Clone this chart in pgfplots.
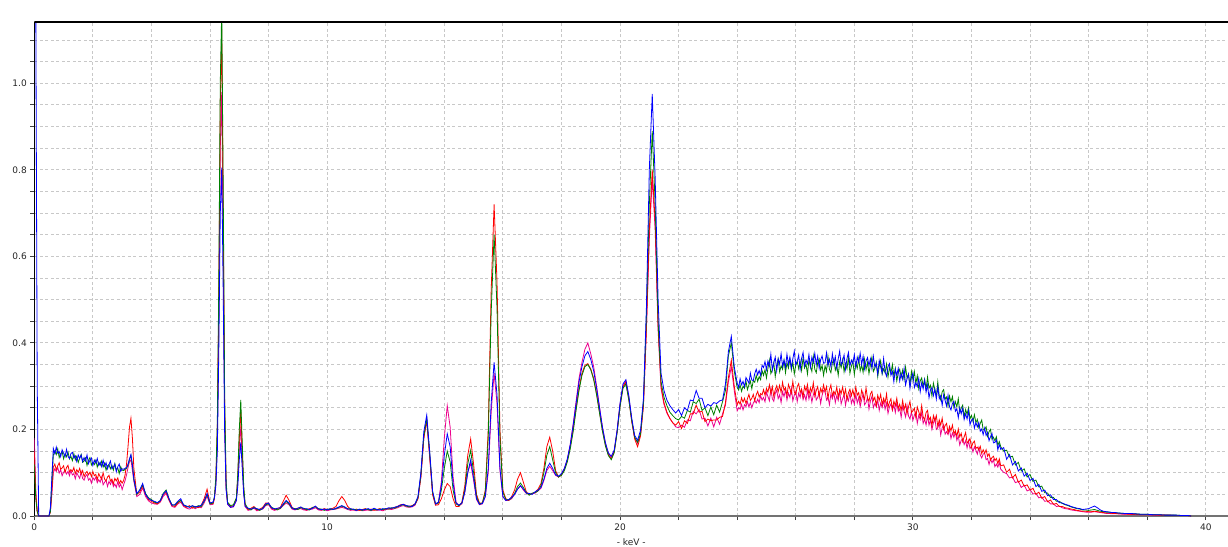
\documentclass[border=0pt]{standalone}
\usepackage{pgfplots}
\usepackage{pgfplotstable}
\pgfplotsset{compat=1.18}
\usepackage{fontspec}
\setmainfont{DejaVu Sans}

\pgfplotstableread{
x r g b m
0.00 0.150 0.120 1.200 0.180
0.05 0.050 0.040 1.200 0.060
0.10 0.010 0.010 0.300 0.010
0.15 0.000 0.000 0.000 0.000
0.50 0.000 0.000 0.000 0.000
0.55 0.010 0.010 0.020 0.010
0.60 0.060 0.080 0.090 0.050
0.65 0.113 0.141 0.156 0.100
0.70 0.120 0.150 0.144 0.109
0.75 0.107 0.142 0.159 0.103
0.80 0.116 0.155 0.145 0.112
0.85 0.123 0.135 0.149 0.099
0.90 0.108 0.144 0.137 0.107
0.95 0.111 0.149 0.153 0.093
1.00 0.116 0.132 0.145 0.101
1.05 0.101 0.144 0.137 0.105
1.10 0.112 0.137 0.154 0.097
1.15 0.117 0.148 0.138 0.103
1.20 0.102 0.132 0.133 0.093
1.25 0.107 0.138 0.144 0.105
1.30 0.103 0.128 0.147 0.095
1.35 0.112 0.144 0.134 0.098
1.40 0.098 0.130 0.139 0.086
1.45 0.107 0.138 0.126 0.100
1.50 0.101 0.124 0.141 0.093
1.55 0.110 0.134 0.133 0.087
1.60 0.097 0.142 0.141 0.102
1.65 0.105 0.124 0.126 0.087
1.70 0.091 0.127 0.135 0.083
1.75 0.099 0.134 0.127 0.092
1.80 0.103 0.117 0.141 0.096
1.85 0.095 0.129 0.121 0.083
1.90 0.101 0.135 0.129 0.087
1.95 0.091 0.118 0.134 0.076
2.00 0.103 0.124 0.117 0.089
2.05 0.093 0.119 0.129 0.083
2.10 0.096 0.129 0.122 0.090
2.15 0.084 0.113 0.133 0.077
2.20 0.098 0.124 0.117 0.084
2.25 0.091 0.117 0.124 0.078
2.30 0.085 0.127 0.114 0.090
2.35 0.100 0.113 0.129 0.072
2.40 0.085 0.122 0.115 0.078
2.45 0.081 0.106 0.123 0.083
2.50 0.090 0.116 0.109 0.068
2.55 0.094 0.119 0.119 0.080
2.60 0.081 0.109 0.127 0.073
2.65 0.085 0.117 0.109 0.083
2.70 0.074 0.106 0.113 0.068
2.75 0.087 0.121 0.120 0.074
2.80 0.081 0.107 0.102 0.066
2.85 0.088 0.111 0.114 0.079
2.90 0.075 0.098 0.120 0.067
2.95 0.082 0.114 0.103 0.074
3.00 0.076 0.106 0.109 0.061
3.05 0.082 0.105 0.108 0.072
3.10 0.095 0.108 0.110 0.082
3.15 0.120 0.110 0.112 0.095
3.20 0.160 0.118 0.120 0.112
3.25 0.205 0.130 0.132 0.125
3.30 0.226 0.140 0.142 0.130
3.35 0.180 0.118 0.118 0.105
3.40 0.110 0.085 0.085 0.080
3.50 0.050 0.050 0.052 0.045
3.60 0.055 0.060 0.060 0.050
3.70 0.070 0.072 0.075 0.065
3.80 0.050 0.052 0.050 0.045
3.90 0.038 0.042 0.040 0.035
4.00 0.034 0.038 0.036 0.030
4.10 0.030 0.032 0.034 0.028
4.20 0.028 0.030 0.031 0.027
4.30 0.034 0.036 0.035 0.032
4.40 0.048 0.052 0.050 0.045
4.50 0.055 0.060 0.058 0.052
4.60 0.038 0.040 0.040 0.036
4.70 0.024 0.026 0.025 0.022
4.80 0.022 0.025 0.026 0.020
4.90 0.030 0.032 0.034 0.028
5.00 0.036 0.036 0.040 0.032
5.10 0.024 0.026 0.025 0.022
5.20 0.020 0.022 0.023 0.018
5.30 0.024 0.021 0.020 0.016
5.40 0.018 0.023 0.024 0.020
5.50 0.022 0.020 0.021 0.017
5.60 0.019 0.024 0.022 0.021
5.70 0.025 0.022 0.025 0.019
5.80 0.040 0.034 0.035 0.030
5.90 0.062 0.050 0.052 0.046
6.00 0.030 0.028 0.030 0.026
6.10 0.028 0.030 0.032 0.027
6.15 0.040 0.045 0.042 0.040
6.20 0.080 0.090 0.070 0.080
6.25 0.200 0.220 0.150 0.180
6.30 0.500 0.540 0.380 0.450
6.35 0.950 1.000 0.700 0.850
6.40 1.125 1.170 0.805 0.980
6.45 0.700 0.760 0.520 0.620
6.50 0.250 0.280 0.190 0.220
6.55 0.070 0.080 0.060 0.065
6.60 0.030 0.032 0.028 0.027
6.70 0.022 0.024 0.020 0.020
6.80 0.024 0.026 0.022 0.021
6.90 0.040 0.042 0.036 0.036
6.95 0.090 0.100 0.070 0.085
7.00 0.180 0.200 0.130 0.160
7.05 0.245 0.268 0.170 0.205
7.10 0.150 0.170 0.110 0.130
7.15 0.060 0.070 0.050 0.055
7.20 0.025 0.028 0.022 0.022
7.30 0.015 0.017 0.018 0.013
7.40 0.018 0.014 0.016 0.015
7.50 0.022 0.020 0.019 0.018
7.60 0.014 0.016 0.017 0.012
7.70 0.016 0.013 0.015 0.014
7.80 0.020 0.018 0.017 0.016
7.90 0.030 0.026 0.028 0.024
8.00 0.030 0.028 0.030 0.026
8.10 0.018 0.020 0.019 0.016
8.20 0.015 0.017 0.016 0.013
8.30 0.017 0.014 0.018 0.015
8.40 0.020 0.018 0.019 0.017
8.50 0.034 0.026 0.028 0.024
8.60 0.048 0.034 0.036 0.030
8.70 0.036 0.028 0.030 0.026
8.80 0.020 0.018 0.019 0.016
8.90 0.016 0.017 0.015 0.014
9.00 0.018 0.015 0.018 0.016
9.10 0.020 0.019 0.021 0.017
9.20 0.016 0.018 0.016 0.014
9.30 0.014 0.015 0.017 0.013
9.40 0.017 0.014 0.015 0.015
9.50 0.019 0.020 0.018 0.016
9.60 0.022 0.021 0.023 0.019
9.70 0.016 0.017 0.016 0.014
9.80 0.014 0.016 0.015 0.013
9.90 0.017 0.013 0.016 0.015
10.00 0.015 0.016 0.014 0.012
10.10 0.016 0.015 0.017 0.014
10.20 0.018 0.016 0.015 0.015
10.30 0.022 0.017 0.018 0.016
10.40 0.035 0.020 0.021 0.018
10.50 0.045 0.023 0.024 0.020
10.60 0.036 0.020 0.021 0.018
10.70 0.022 0.017 0.016 0.015
10.80 0.016 0.015 0.017 0.013
10.90 0.014 0.016 0.015 0.014
11.00 0.016 0.014 0.013 0.012
11.10 0.013 0.015 0.016 0.014
11.20 0.015 0.013 0.014 0.012
11.30 0.017 0.016 0.015 0.013
11.40 0.014 0.015 0.017 0.014
11.50 0.016 0.013 0.014 0.012
11.60 0.013 0.016 0.018 0.015
11.70 0.015 0.014 0.015 0.013
11.80 0.017 0.016 0.014 0.014
11.90 0.014 0.015 0.017 0.012
12.00 0.016 0.017 0.016 0.015
12.10 0.018 0.016 0.019 0.016
12.20 0.017 0.019 0.018 0.015
12.30 0.020 0.018 0.020 0.017
12.40 0.022 0.021 0.022 0.019
12.50 0.026 0.024 0.025 0.022
12.60 0.027 0.026 0.027 0.024
12.70 0.024 0.023 0.024 0.021
12.80 0.022 0.021 0.023 0.020
12.90 0.024 0.023 0.022 0.021
13.00 0.028 0.027 0.028 0.025
13.10 0.040 0.042 0.045 0.040
13.20 0.090 0.095 0.100 0.090
13.30 0.180 0.185 0.195 0.180
13.40 0.222 0.225 0.233 0.220
13.50 0.140 0.145 0.150 0.135
13.60 0.050 0.055 0.058 0.050
13.70 0.025 0.028 0.028 0.026
13.80 0.026 0.030 0.032 0.032
13.90 0.040 0.060 0.070 0.080
14.00 0.060 0.110 0.140 0.180
14.10 0.075 0.150 0.190 0.255
14.20 0.068 0.125 0.160 0.205
14.30 0.040 0.060 0.075 0.090
14.40 0.022 0.028 0.030 0.032
14.50 0.022 0.024 0.025 0.024
14.60 0.032 0.030 0.030 0.028
14.70 0.070 0.060 0.055 0.055
14.80 0.140 0.120 0.100 0.100
14.90 0.178 0.152 0.130 0.122
15.00 0.120 0.100 0.088 0.082
15.10 0.050 0.045 0.040 0.038
15.20 0.030 0.028 0.027 0.026
15.30 0.030 0.030 0.029 0.028
15.40 0.060 0.055 0.045 0.045
15.50 0.200 0.180 0.110 0.100
15.60 0.520 0.470 0.260 0.240
15.70 0.720 0.650 0.355 0.330
15.80 0.540 0.480 0.280 0.260
15.90 0.200 0.180 0.110 0.105
16.00 0.060 0.055 0.045 0.045
16.10 0.040 0.038 0.036 0.036
16.20 0.036 0.037 0.038 0.036
16.30 0.045 0.042 0.043 0.040
16.40 0.060 0.052 0.050 0.050
16.50 0.085 0.068 0.062 0.062
16.60 0.100 0.076 0.070 0.070
16.70 0.078 0.066 0.062 0.060
16.80 0.056 0.054 0.053 0.052
16.90 0.050 0.048 0.052 0.050
17.00 0.052 0.053 0.050 0.051
17.10 0.055 0.054 0.056 0.053
17.20 0.062 0.058 0.060 0.058
17.30 0.075 0.070 0.066 0.064
17.40 0.110 0.100 0.085 0.082
17.50 0.160 0.140 0.110 0.105
17.60 0.182 0.160 0.122 0.115
17.70 0.150 0.130 0.110 0.105
17.80 0.105 0.100 0.095 0.094
17.90 0.090 0.090 0.092 0.090
18.00 0.095 0.094 0.098 0.096
18.10 0.108 0.105 0.110 0.110
18.20 0.128 0.125 0.132 0.130
18.30 0.160 0.155 0.165 0.165
18.40 0.200 0.195 0.210 0.212
18.50 0.250 0.245 0.260 0.265
18.60 0.295 0.290 0.310 0.318
18.70 0.330 0.325 0.345 0.355
18.80 0.348 0.345 0.370 0.385
18.90 0.352 0.350 0.380 0.400
19.00 0.340 0.338 0.362 0.375
19.10 0.318 0.315 0.335 0.345
19.20 0.282 0.280 0.295 0.300
19.30 0.240 0.238 0.250 0.252
19.40 0.198 0.196 0.205 0.205
19.50 0.165 0.162 0.170 0.168
19.60 0.142 0.140 0.146 0.145
19.70 0.132 0.130 0.138 0.136
19.80 0.148 0.146 0.152 0.150
19.90 0.195 0.192 0.198 0.196
20.00 0.255 0.252 0.260 0.258
20.10 0.298 0.295 0.305 0.300
20.20 0.310 0.305 0.315 0.312
20.30 0.270 0.268 0.278 0.275
20.40 0.218 0.220 0.226 0.222
20.50 0.178 0.182 0.186 0.180
20.60 0.160 0.170 0.175 0.168
20.70 0.185 0.190 0.198 0.188
20.80 0.255 0.262 0.272 0.258
20.90 0.430 0.460 0.480 0.430
21.00 0.660 0.720 0.800 0.640
21.10 0.800 0.890 0.975 0.780
21.20 0.680 0.720 0.780 0.660
21.30 0.440 0.450 0.500 0.430
21.40 0.300 0.310 0.330 0.295
21.50 0.262 0.275 0.290 0.258
21.60 0.240 0.255 0.268 0.238
21.70 0.226 0.240 0.255 0.225
21.80 0.215 0.232 0.246 0.216
21.90 0.210 0.225 0.238 0.206
22.00 0.218 0.222 0.246 0.204
22.10 0.202 0.230 0.232 0.210
22.20 0.220 0.226 0.250 0.205
22.30 0.214 0.244 0.244 0.222
22.40 0.236 0.240 0.268 0.220
22.50 0.236 0.264 0.266 0.242
22.60 0.256 0.260 0.290 0.236
22.70 0.240 0.270 0.272 0.246
22.80 0.242 0.244 0.272 0.224
22.90 0.218 0.250 0.250 0.226
23.00 0.224 0.232 0.258 0.208
23.10 0.220 0.252 0.254 0.226
23.20 0.222 0.234 0.262 0.206
23.30 0.222 0.256 0.260 0.228
23.40 0.228 0.240 0.266 0.212
23.50 0.230 0.264 0.268 0.236
23.60 0.262 0.290 0.305 0.256
23.70 0.320 0.370 0.380 0.310
23.80 0.360 0.400 0.415 0.345
23.90 0.300 0.335 0.345 0.290
24.00 0.257 0.297 0.307 0.243
24.05 0.265 0.291 0.297 0.250
24.10 0.258 0.303 0.317 0.247
24.15 0.273 0.288 0.303 0.258
24.20 0.263 0.300 0.311 0.245
24.25 0.272 0.295 0.299 0.257
24.30 0.260 0.312 0.320 0.253
24.35 0.271 0.292 0.314 0.264
24.40 0.281 0.303 0.307 0.252
24.45 0.267 0.312 0.330 0.262
24.50 0.272 0.294 0.314 0.250
24.55 0.281 0.313 0.313 0.261
24.60 0.266 0.309 0.329 0.267
24.65 0.280 0.325 0.339 0.261
24.70 0.288 0.311 0.326 0.270
24.75 0.275 0.322 0.336 0.262
24.80 0.283 0.315 0.325 0.278
24.85 0.280 0.336 0.348 0.268
24.90 0.292 0.325 0.343 0.274
24.95 0.279 0.338 0.357 0.264
25.00 0.295 0.319 0.338 0.286
25.05 0.286 0.341 0.358 0.276
25.10 0.303 0.360 0.346 0.266
25.15 0.283 0.329 0.374 0.294
25.20 0.299 0.338 0.337 0.271
25.25 0.276 0.354 0.354 0.265
25.30 0.292 0.322 0.367 0.283
25.35 0.301 0.348 0.336 0.291
25.40 0.287 0.363 0.363 0.271
25.45 0.302 0.333 0.351 0.280
25.50 0.285 0.347 0.375 0.262
25.55 0.309 0.339 0.346 0.287
25.60 0.290 0.360 0.360 0.276
25.65 0.297 0.331 0.344 0.291
25.70 0.278 0.354 0.374 0.268
25.75 0.304 0.342 0.350 0.284
25.80 0.294 0.363 0.367 0.274
25.85 0.283 0.337 0.342 0.296
25.90 0.311 0.356 0.363 0.266
25.95 0.287 0.328 0.381 0.279
26.00 0.281 0.348 0.349 0.288
26.05 0.299 0.357 0.357 0.264
26.10 0.306 0.340 0.372 0.284
26.15 0.285 0.357 0.339 0.274
26.20 0.293 0.336 0.364 0.292
26.25 0.275 0.366 0.378 0.269
26.30 0.300 0.342 0.347 0.280
26.35 0.289 0.351 0.360 0.267
26.40 0.304 0.328 0.352 0.291
26.45 0.280 0.360 0.373 0.270
26.50 0.296 0.347 0.344 0.284
26.55 0.286 0.334 0.367 0.263
26.60 0.308 0.369 0.355 0.280
26.65 0.277 0.339 0.376 0.293
26.70 0.290 0.331 0.350 0.268
26.75 0.299 0.354 0.369 0.274
26.80 0.275 0.363 0.341 0.286
26.85 0.295 0.337 0.361 0.260
26.90 0.285 0.348 0.370 0.279
26.95 0.303 0.325 0.353 0.290
27.00 0.287 0.347 0.354 0.288
27.05 0.299 0.334 0.377 0.268
27.10 0.272 0.369 0.348 0.275
27.15 0.292 0.339 0.362 0.257
27.20 0.303 0.331 0.345 0.282
27.25 0.278 0.354 0.375 0.271
27.30 0.288 0.363 0.351 0.285
27.35 0.281 0.337 0.368 0.262
27.40 0.298 0.348 0.342 0.278
27.45 0.274 0.325 0.363 0.267
27.50 0.292 0.356 0.381 0.289
27.55 0.283 0.343 0.349 0.259
27.60 0.298 0.361 0.357 0.271
27.65 0.278 0.333 0.372 0.280
27.70 0.293 0.352 0.339 0.256
27.75 0.269 0.340 0.364 0.275
27.80 0.285 0.367 0.378 0.266
27.85 0.293 0.330 0.347 0.284
27.90 0.278 0.346 0.360 0.260
27.95 0.292 0.358 0.352 0.271
28.00 0.275 0.327 0.373 0.258
28.05 0.298 0.353 0.344 0.281
28.10 0.279 0.341 0.367 0.261
28.15 0.285 0.364 0.355 0.274
28.20 0.266 0.335 0.376 0.253
28.25 0.291 0.349 0.350 0.269
28.30 0.280 0.332 0.369 0.282
28.35 0.269 0.362 0.340 0.257
28.40 0.296 0.338 0.358 0.262
28.45 0.272 0.355 0.366 0.274
28.50 0.265 0.329 0.347 0.247
28.55 0.282 0.349 0.363 0.266
28.60 0.288 0.367 0.341 0.276
28.65 0.267 0.334 0.369 0.250
28.70 0.274 0.341 0.344 0.260
28.75 0.255 0.355 0.352 0.252
28.80 0.279 0.322 0.328 0.268
28.85 0.267 0.346 0.359 0.244
28.90 0.281 0.359 0.344 0.261
28.95 0.257 0.328 0.330 0.251
29.00 0.272 0.340 0.364 0.266
29.05 0.261 0.331 0.333 0.247
29.10 0.282 0.351 0.323 0.261
29.15 0.251 0.321 0.345 0.237
29.20 0.263 0.343 0.352 0.252
29.25 0.271 0.330 0.325 0.259
29.30 0.246 0.350 0.334 0.244
29.35 0.265 0.323 0.310 0.257
29.40 0.255 0.341 0.339 0.239
29.45 0.272 0.312 0.325 0.262
29.50 0.248 0.331 0.341 0.242
29.55 0.258 0.339 0.312 0.248
29.60 0.244 0.321 0.329 0.228
29.65 0.267 0.337 0.316 0.253
29.70 0.246 0.315 0.341 0.242
29.75 0.258 0.344 0.303 0.229
29.80 0.236 0.319 0.317 0.256
29.85 0.252 0.327 0.328 0.231
29.90 0.265 0.303 0.295 0.224
29.95 0.239 0.334 0.320 0.241
30.00 0.243 0.315 0.330 0.221
30.05 0.249 0.334 0.297 0.233
30.10 0.228 0.306 0.308 0.240
30.15 0.252 0.324 0.299 0.214
30.20 0.241 0.294 0.318 0.233
30.25 0.229 0.312 0.287 0.223
30.30 0.255 0.319 0.308 0.239
30.35 0.229 0.300 0.294 0.214
30.40 0.222 0.316 0.314 0.224
30.45 0.239 0.293 0.286 0.210
30.50 0.244 0.321 0.303 0.232
30.55 0.222 0.295 0.273 0.210
30.60 0.228 0.302 0.291 0.222
30.65 0.209 0.277 0.297 0.200
30.70 0.232 0.307 0.278 0.215
30.75 0.219 0.292 0.293 0.227
30.80 0.232 0.277 0.270 0.200
30.85 0.207 0.310 0.298 0.204
30.90 0.222 0.278 0.271 0.215
30.95 0.210 0.268 0.278 0.187
31.00 0.226 0.287 0.256 0.204
31.05 0.200 0.292 0.280 0.211
31.10 0.209 0.270 0.267 0.189
31.15 0.214 0.275 0.254 0.195
31.20 0.192 0.254 0.279 0.188
31.25 0.207 0.277 0.253 0.200
31.30 0.197 0.264 0.245 0.179
31.35 0.210 0.276 0.260 0.192
31.40 0.190 0.251 0.265 0.182
31.45 0.197 0.264 0.242 0.194
31.50 0.184 0.252 0.248 0.175
31.55 0.201 0.271 0.227 0.185
31.60 0.183 0.239 0.250 0.164
31.65 0.191 0.249 0.236 0.175
31.70 0.172 0.256 0.249 0.178
31.75 0.183 0.229 0.223 0.165
31.80 0.193 0.246 0.236 0.174
31.85 0.169 0.235 0.224 0.157
31.90 0.172 0.250 0.243 0.174
31.95 0.179 0.225 0.211 0.156
32.00 0.159 0.232 0.221 0.161
32.05 0.169 0.219 0.225 0.148
32.10 0.173 0.234 0.203 0.160
32.15 0.156 0.216 0.216 0.152
32.20 0.159 0.223 0.206 0.143
32.25 0.153 0.204 0.216 0.158
32.30 0.161 0.214 0.196 0.141
32.35 0.144 0.222 0.201 0.134
32.40 0.153 0.199 0.188 0.143
32.45 0.145 0.200 0.203 0.145
32.50 0.153 0.206 0.186 0.130
32.55 0.138 0.184 0.193 0.133
32.60 0.144 0.195 0.174 0.119
32.65 0.129 0.200 0.183 0.132
32.70 0.135 0.177 0.191 0.123
32.75 0.138 0.182 0.169 0.130
32.80 0.128 0.174 0.170 0.114
32.85 0.133 0.183 0.176 0.120
32.90 0.121 0.163 0.153 0.113
32.95 0.132 0.172 0.165 0.123
33.00 0.116 0.160 0.154 0.108
33.10 0.118 0.150 0.158 0.101
33.20 0.101 0.152 0.131 0.098
33.30 0.108 0.136 0.142 0.088
33.40 0.088 0.138 0.118 0.090
33.50 0.096 0.118 0.126 0.077
33.60 0.078 0.124 0.104 0.080
33.70 0.083 0.104 0.111 0.066
33.80 0.069 0.109 0.092 0.071
33.90 0.072 0.090 0.099 0.058
34.00 0.060 0.096 0.082 0.061
34.10 0.064 0.080 0.087 0.051
34.20 0.050 0.083 0.068 0.052
34.30 0.055 0.067 0.073 0.042
34.40 0.041 0.069 0.057 0.044
34.50 0.045 0.054 0.060 0.034
34.60 0.033 0.053 0.047 0.035
34.70 0.037 0.043 0.049 0.028
34.80 0.027 0.043 0.038 0.028
34.90 0.029 0.034 0.038 0.022
35.00 0.022 0.034 0.031 0.023
35.10 0.022 0.029 0.030 0.019
35.20 0.019 0.026 0.027 0.017
35.30 0.018 0.024 0.025 0.016
35.40 0.016 0.021 0.022 0.014
35.50 0.015 0.019 0.020 0.013
35.60 0.013 0.017 0.018 0.012
35.70 0.012 0.016 0.017 0.011
35.80 0.011 0.014 0.015 0.010
35.90 0.011 0.014 0.016 0.009
36.00 0.010 0.013 0.017 0.009
36.10 0.010 0.014 0.020 0.009
36.20 0.011 0.015 0.023 0.010
36.30 0.010 0.013 0.019 0.009
36.40 0.009 0.011 0.014 0.008
36.50 0.008 0.010 0.011 0.007
36.60 0.007 0.009 0.010 0.006
36.70 0.007 0.009 0.009 0.006
36.80 0.006 0.008 0.008 0.005
36.90 0.006 0.008 0.008 0.005
37.00 0.005 0.007 0.007 0.005
37.20 0.005 0.006 0.006 0.004
37.40 0.004 0.006 0.006 0.004
37.60 0.004 0.005 0.005 0.003
37.80 0.003 0.004 0.004 0.003
38.00 0.003 0.004 0.004 0.003
38.20 0.003 0.003 0.003 0.002
38.40 0.002 0.003 0.003 0.002
38.60 0.002 0.002 0.002 0.002
38.80 0.002 0.002 0.002 0.001
39.00 0.001 0.002 0.002 0.001
39.20 0.001 0.001 0.001 0.001
39.40 0.001 0.001 0.001 0.001
39.50 0.000 0.000 0.000 0.000
}\spec

\definecolor{sgreen}{RGB}{0,128,0}
\definecolor{gridc}{RGB}{200,200,200}

\begin{document}
\begin{tikzpicture}
\path[use as bounding box] (0,0) rectangle (1228pt,546pt);
\begin{axis}[
  scale only axis,
  width=1193.7pt, height=494pt,
  at={(34.3pt,30pt)}, anchor=south west,
  xmin=0, xmax=40.76, ymin=0, ymax=1.1414,
  axis x line*=bottom, axis y line*=left,
  x axis line style={-, draw=black!55, line width=1.6pt},
  y axis line style={-, draw=black, line width=1pt},
  xtick={0,10,20,30,40},
  minor xtick={2,4,6,8,12,14,16,18,22,24,26,28,32,34,36,38},
  ytick={0,0.2,0.4,0.6,0.8,1.0},
  minor ytick={0.05,0.10,0.15,0.25,0.30,0.35,0.45,0.50,0.55,0.65,0.70,0.75,0.85,0.90,0.95,1.05,1.10},
  grid=both,
  major grid style={draw=gridc, dash pattern=on 3pt off 2.5pt, line width=0.8pt},
  minor grid style={draw=gridc, dash pattern=on 3pt off 2.5pt, line width=0.8pt},
  tick align=outside,
  major tick length=4pt, minor tick length=4pt,
  every tick/.style={draw=black!75, line width=0.8pt},
  tick label style={font=\fontsize{9}{10}\selectfont, text=black!85},
  /pgf/number format/assume math mode=true,
  yticklabel style={/pgf/number format/.cd, fixed, fixed zerofill, precision=1},
  xticklabel style={/pgf/number format/.cd, fixed, precision=0},
  xlabel={- keV -},
  xlabel style={font=\fontsize{9}{10}\selectfont, text=black!85, at={(axis description cs:0.5,0)}, anchor=center, yshift=-26pt},
  clip=true,
]
\addplot[magenta, line width=0.8pt] table[x=x, y=m]{\spec};
\addplot[red, line width=0.8pt] table[x=x, y=r]{\spec};
\addplot[sgreen, line width=0.8pt] table[x=x, y=g]{\spec};
\addplot[blue, line width=0.8pt] table[x=x, y=b]{\spec};
\draw[black, line width=1.2pt] (rel axis cs:0,1) -- (rel axis cs:1,1);
\node[anchor=base west, font=\fontsize{9}{10}\selectfont, inner sep=0pt, xshift=-0.5pt, yshift=4.5pt] at (rel axis cs:0,1) {x 1E3 Pulses};
\end{axis}
\end{tikzpicture}
\end{document}
